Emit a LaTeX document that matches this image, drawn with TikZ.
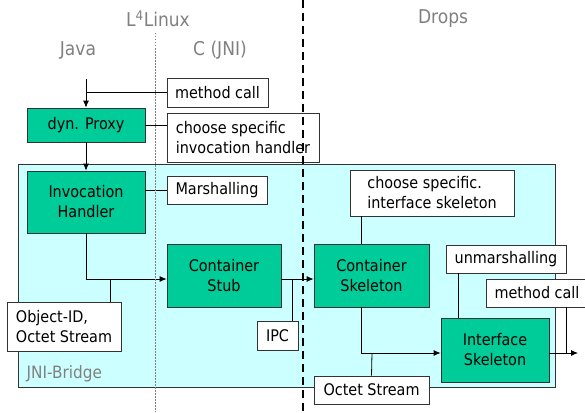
\documentclass[tikz,border=0pt]{standalone}
\usepackage{fontspec}
\setmainfont{DejaVu Sans Condensed}
\usepackage{xcolor}
\usepackage{tikz}
\usetikzlibrary{arrows, arrows.meta, positioning, calc}

\definecolor{boxgreen}{RGB}{0,204,153}
\definecolor{bridgecyan}{RGB}{204,255,255}
\definecolor{labelgray}{RGB}{128,128,128}

\tikzset{
    part/.style={draw=black!80, fill=boxgreen, align=center, inner sep=0pt, font=\fontsize{16}{20}\selectfont},
    note/.style={draw=black!80, fill=white, align=left, inner sep=0pt, font=\fontsize{16}{20}\selectfont},
    region/.style={text=labelgray, font=\fontsize{19}{22}\selectfont},
}

\begin{document}
\begin{tikzpicture}[x=1pt, y=-1pt, >={Latex[length=7pt, width=6pt]}, line width=0.8pt]
        \useasboundingbox (0,0) rectangle (585,412);

        % JNI bridge area
        \draw[fill=bridgecyan, draw=black!80] (18,164) rectangle (555,387);
        \node[region, anchor=west, font=\fontsize{17}{20}\selectfont] (bridge) at (23,374) {JNI-Bridge};

        % Region titles
        \node[region] (l4linux) at (158,19) {L\textsuperscript{4}Linux};
        \node[region] (drops) at (443,19) {Drops};
        \node[region] (java) at (78,50) {Java};
        \node[region] (cjni) at (220,50) {C (JNI)};

        % Components
        \node[part, minimum width=118, minimum height=34] (proxy) at (86,125) {dyn. Proxy};
        \node[part, minimum width=118, minimum height=62] (handler) at (86,202) {Invocation\\Handler};
        \node[part, minimum width=114, minimum height=63] (stub) at (224,275.5) {Container\\Stub};
        \node[part, minimum width=115, minimum height=63] (skel) at (371.5,275.5) {Container\\Skeleton};
        \node[part, minimum width=108, minimum height=64] (iskel) at (495,350) {Interface\\Skeleton};

        % Notes
        \node[note, minimum width=101, minimum height=29] (call) at (217.5,92.5) {method call};
        \node[note, minimum width=152, minimum height=49] (choose) at (243,137.5) {choose specific\\invocation handler};
        \node[note, minimum width=100, minimum height=28] (marsh) at (217,190) {Marshalling};
        \node[note, minimum width=114, minimum height=49] (objid) at (64,326.5) {Object-ID,\\Octet Stream};
        \node[note, minimum width=41, minimum height=29] (ipc) at (277.5,335.5) {IPC};
        \node[note, minimum width=164, minimum height=46] (choosei) at (432,193) {choose specific.\\interface skeleton};
        \node[note, minimum width=120, minimum height=28] (unmarsh) at (506,259) {unmarshalling};
        \node[note, minimum width=102, minimum height=28] (callout) at (537,293) {method call};
        \node[note, minimum width=115, minimum height=28] (octet) at (371.5,390) {Octet Stream};

        % Connectors
        \coordinate (start) at (86,79);
        \draw[->] (start) -- (proxy.north);
        \draw (call.west) -- (call.west -| start);
        \draw (proxy.east) -- (proxy.east -| choose.west);
        \draw[->] (proxy.south) -- (handler.north);
        \draw (handler.east |- marsh.west) -- (marsh.west);
        \draw[->] (handler.south) |- ([yshift=-3.5pt]stub.west);
        \coordinate (j1) at (110,279);
        \draw (j1) -- (j1 |- objid.north);
        \draw[->] ([yshift=-3.5pt]stub.east) -- ([yshift=-3.5pt]skel.west);
        \coordinate (j2) at (292,279);
        \draw (j2) -- (j2 |- ipc.north);
        \draw ([xshift=-10.5pt]skel.north) -- ([xshift=-10.5pt]skel.north |- choosei.south);
        \draw[->] ([xshift=-10.5pt]skel.south) |- ([yshift=-3pt]iskel.west);
        \coordinate (j3) at (372,353);
        \draw (j3) -- (octet.north);
        \coordinate (j4) at (458,0);
        \draw (j4 |- unmarsh.south) -- (j4 |- iskel.north);
        \coordinate (out) at (578,353);
        \draw[->] ([yshift=-3pt]iskel.east) -- (out);
        \coordinate (j5) at (566,353);
        \draw (j5) -- (j5 |- callout.south);

        % Dividers
        \draw[labelgray, line width=1pt, dash pattern=on 1.5pt off 1.5pt] (155,33) -- (155,412);
        \draw[black, line width=2pt, dash pattern=on 8pt off 5pt] (303,0) -- (303,412);

\end{tikzpicture}
\end{document}
